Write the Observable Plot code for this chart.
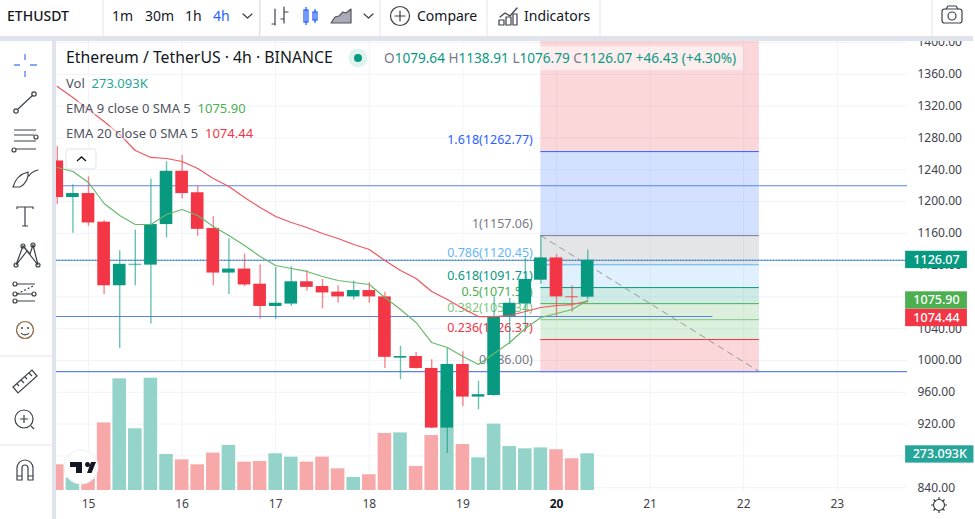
<!DOCTYPE html>
<html>
<head>
<meta charset="utf-8">
<script src="https://cdn.jsdelivr.net/npm/d3@7"></script>
<script src="https://cdn.jsdelivr.net/npm/@observablehq/plot@0.6"></script>
<style>
html,body{margin:0;padding:0;background:#fff;overflow:hidden}
#wrap{position:relative;width:975px;height:519px;font-family:"Noto Sans",sans-serif;color:#131722}
#wrap>svg{position:absolute;left:0;top:0}
#chart svg{display:block}
.t{position:absolute;white-space:nowrap;line-height:1;transform:translateY(-50%)}
.bg{background:rgba(255,255,255,.55)}
</style>
</head>
<body>
<div id="wrap">
<div id="chart"></div>
<svg id="chrome" width="975" height="519" style="pointer-events:none">
  <rect x="0" y="0" width="975" height="36" fill="#fff"/>
  <rect x="0" y="36" width="973" height="5" fill="#e0e3eb"/>
  <rect x="0" y="41" width="52" height="478" fill="#fff"/>
  <rect x="52" y="41" width="4" height="478" fill="#e0e3eb"/>
  <g stroke="#eceef3" stroke-width="1.5">
    <path d="M103 0V36M380 0V36M487 0V36M600 0V36M932 0V36M0 356H52M0 445H52"/>
  </g>
  <rect x="259" y="0" width="1.5" height="36" fill="#e0e3eb"/>
  <g fill="none" stroke="#3c4048" stroke-width="1.2" stroke-linecap="round" stroke-linejoin="round">
    <path d="M243 14l4.5 4 4.5-4"/><path d="M364 14l4.5 4 4.5-4"/>
    <path d="M275 9V25M272 24H275M284 7V23M284 12H288M284 19H281"/>
    <circle cx="400" cy="16" r="9.5"/><path d="M400 11V21M395 16H405"/>
    <path d="M500 17l5-4 5 3 7-8"/><rect x="499" y="20" width="5" height="5"/><rect x="506" y="17" width="5" height="8"/><rect x="513" y="14" width="4" height="11"/>
    <rect x="942" y="9" width="20" height="14" rx="2.5"/><circle cx="952" cy="16" r="4"/><path d="M946 9l2-3h8l2 3"/>
    <path d="M331 23h20V9l-5 4-3-1-4 4-4 1-4 6z" fill="#aab" stroke="#555"/>
  </g>
  <g fill="none" stroke="#2962ff" stroke-width="1.3">
    <rect x="304" y="10" width="4" height="12"/><path d="M306 7V25"/>
    <rect x="313" y="12" width="4" height="8"/><path d="M315 9V23"/>
  </g>
  <!-- drawing tools -->
  <path d="M25 54V60M25 71V77M14 65H20M30 65H37" stroke="#5b8cf5" stroke-width="1.4" fill="none"/>
  <g fill="none" stroke="#3c4048" stroke-width="1.2">
    <path d="M18 109L33 95"/><circle cx="16" cy="111" r="2.2"/><circle cx="34" cy="94" r="2.2"/>
    <path d="M14 130H36M14 135H34M14 141H36M16 149H36"/><circle cx="36" cy="137" r="2"/><circle cx="14" cy="150" r="2"/>
    <path d="M13 187c2-7 7-13 15-15c1 5-2 12-8 15zM29 176c2-4 5-5 9-6" stroke-linecap="round"/>
    <path d="M17 209V207H33V209M25 207V226M22 226H28"/>
    <path d="M16 265L23 246L30 254L33 245L38 265M16 265L27 251M23 246L38 265" />
    <circle cx="16" cy="265" r="2"/><circle cx="23" cy="246" r="2"/><circle cx="38" cy="265" r="2"/><circle cx="33" cy="245" r="2"/>
    <path d="M17 284H35M17 294H32M17 301H35" /><path d="M17 294L33 286" stroke-dasharray="2 2"/>
    <circle cx="15" cy="284" r="2"/><circle cx="15" cy="294" r="2"/><circle cx="15" cy="301" r="2"/><circle cx="34" cy="294" r="2"/>
    <circle cx="25" cy="330" r="8.5"/><path d="M21 333c2 2.5 6 2.5 8 0" />
    <path d="M13 387L32 370L37 376L18 393Z"/><path d="M17 384l2 2M21 380l3 3M25 377l2 2M29 373l3 3"/>
    <circle cx="24" cy="419" r="9"/><path d="M24 415V423M20 419H28M31 426L34 429"/>
    <path d="M17 480V468a8 8 0 0 1 16 0V480H28V468a3 3 0 0 0-6 0V480ZM17 476H22M28 476H33"/>
  </g>
  <circle cx="25" cy="330" r="8.5" fill="none" stroke="#f59e32" stroke-width=".6"/>
  <circle cx="22" cy="328" r="1" fill="#3c4048"/><circle cx="28" cy="328" r="1" fill="#3c4048"/>
  <!-- legend -->
  <circle cx="358" cy="58" r="9.5" fill="#e1f3ef"/><circle cx="358" cy="58" r="4" fill="#089981"/>
  <rect x="66" y="149" width="30" height="20" rx="3" fill="#fff" stroke="#e0e3eb"/>
  <path d="M77 161l4.500-4 4.500 4" fill="none" stroke="#131722" stroke-width="1.4"/>
  <!-- attribution badge -->
  <circle cx="81" cy="467" r="17" fill="#fff" stroke="#eceef3"/>
  <path d="M70 462H82V473H76V467H70ZM85 464.500a2.500 2.500 0 1 1 0 .01ZM87 473L91 462H96L91.500 473Z" fill="#131722"/>
  <!-- settings -->
  <g fill="none" stroke="#3c4048" stroke-width="1.2">
    <circle cx="939" cy="505" r="5.500"/>
    <path d="M939 497V500M939 510V513M931 505H934M944 505H947M933.500 499.500l2 2M942.500 508.500l2 2M933.500 510.500l2-2M942.500 501.500l2-2"/>
  </g>
</svg>
<div class="t" style="left:7px;top:16px;font-size:14px;font-weight:500">ETHUSDT</div>
<div class="t" style="left:112px;top:16px;font-size:14px">1m</div>
<div class="t" style="left:145px;top:16px;font-size:14px">30m</div>
<div class="t" style="left:185px;top:16px;font-size:14px">1h</div>
<div class="t" style="left:213px;top:16px;font-size:14px;color:#2962ff">4h</div>
<div class="t" style="left:417px;top:16px;font-size:14px">Compare</div>
<div class="t" style="left:524px;top:16px;font-size:14px">Indicators</div>
<div class="t" style="left:66px;top:58px;font-size:15.800px">Ethereum / TetherUS · 4h · BINANCE</div>
<div class="t bg" style="left:380px;top:58px;padding:5px 7px 5px 4px;font-size:13.600px;color:#089981"><span style="color:#787b86">O</span>1079.64 <span style="color:#787b86">H</span>1138.91 <span style="color:#787b86">L</span>1076.79 <span style="color:#787b86">C</span>1126.07 +46.43 (+4.30%)</div>
<div class="t bg" style="left:66px;top:83px;font-size:13px;color:#50535e">Vol &nbsp;<span style="color:#26a69a">273.093K</span></div>
<div class="t bg" style="left:66px;top:108px;font-size:13px;color:#50535e">EMA 9 close 0 SMA 5 &nbsp;<span style="color:#4caf50">1075.90</span></div>
<div class="t bg" style="left:66px;top:133px;font-size:13px;color:#50535e">EMA 20 close 0 SMA 5 &nbsp;<span style="color:#f23645">1074.44</span></div>
</div>
<script>
const opens  = [1251,1205,1210,1174,1094,1120,1120,1171,1238,1211,1166,1110,1115,1096,1068,1071,1099,1093,1086,1080,1088,1080,1003,1005,990,915,995,954,956,1055,1071,1101,1129,1080,1079.64];
const highs  = [1269,1221,1231,1176,1138,1164,1228,1250,1258,1219,1181,1153,1134,1120,1117,1118,1113,1102,1094,1100,1098,1086,1018,1010,1001,1016,1011,974,1080,1078,1129,1157.06,1133,1094,1138.91];
const lows   = [1196,1160,1169,1083,1015,1094,1046,1154,1203,1156,1094,1083,1093,1052,1052,1068,1087,1065,1072,1076,1072,990,976,989,914,883,942,938,955,1020,1040,1096,1054,1061,1076.79];
const closes = [1205,1210,1173,1094,1121,1121,1171,1238,1210,1165,1110,1115,1095,1068,1072,1099,1092,1085,1080,1088,1080,1004,1005,990,915,995,954,957,1055,1072,1102,1129,1080,1079,1126.07];
const volumes = [191,92,87,503,831,459,836,268,228,191,278,335,211,216,273,248,211,248,161,97,117,424,429,179,409,744,342,243,494,327,310,317,303,236,273.093];
const ema9  = [1242.8,1237.7,1223.9,1197.5,1182.4,1171.1,1171.1,1183.7,1189.9,1182.4,1168.6,1157.2,1144.7,1130.8,1119.5,1115.7,1112,1105.7,1100.6,1098.1,1095.6,1079.2,1064.2,1047.8,1022.6,1016.4,1005,995,1008.8,1022.6,1040.3,1054.1,1059.1,1064.2,1075.9];
const ema20 = [1344.7,1330.8,1315.7,1300.6,1284.3,1264.2,1255.4,1254.1,1250.3,1241.5,1228.9,1218.9,1205,1192.5,1181.1,1173.6,1167.3,1159.8,1153.5,1145.9,1139.6,1125.8,1113.2,1103.1,1086.8,1076.7,1065.4,1055.3,1055.3,1056.6,1061.6,1066.7,1069.2,1070.4,1074.44];

const fibRatios = ["1.618","1","0.786","0.618","0.5","0.382","0.236","0"];
const fibPrices = [1262.77,1157.06,1120.45,1091.71,1071.53,1051.34,1026.37,986];
const fibColors = ["#2962ff","#787b86","#64b5f6","#089981","#4caf50","#81c784","#f23645","#787b86"];
const fibFills  = ["#f23645","#2962ff","#787b86","#64b5f6","#089981","#4caf50","#4caf50","#f23645"];
const fibStartDay = 19.833, fibEndDay = 22.168;

const supportPrices = [1219.8, 986];
const shortSupportPrice = 1055.3, shortSupportEndDay = 21.67;
const lastPrice = 1126.07;

const dayTicks = [15,16,17,18,19,21,22,23];
const boldDayTicks = [20];
const priceTicks = d3.range(840,1401,40);

const tagLabels = ["1126.07","1075.90","1074.44","273.093K"];
const tagPrices = [1126.5,1075.5,1053.5,881.8];
const tagFills  = ["#089981","#4caf50","#f23645","#26a69a"];
const tagEnds   = [24.39,24.39,24.39,24.46];

const GREEN="#089981", RED="#f23645", VOL_GREEN="#94d3c9", VOL_RED="#f7a8a8", GRID="#f0f3fa", BLUE="#5b82f0";
const VOLUME_BASE = 836.5, PRICE_PER_K = 0.169, HALF_BAR = 0.0675, HALF_VOL = 0.0725, TOP = 1401.26;

const bars = opens.map((o,i)=>({
  day: 14 + 4/6 + i/6, open:o, high:highs[i], low:lows[i], close:closes[i],
  vol:volumes[i], e9:ema9[i], e20:ema20[i], up:closes[i]>=o
}));
const bodyTop = d=>Math.max(d.open,d.close), bodyBot = d=>Math.min(d.open,d.close);
const fibLevels = fibPrices.map((p,i)=>({price:p,color:fibColors[i],label:`${fibRatios[i]}(${p.toFixed(2)})`}));
const fibBands = fibPrices.map((p,i)=>({lo:p, hi:i===0?TOP:fibPrices[i-1], fill:fibFills[i]}));
const tags = tagLabels.map((l,i)=>({label:l,price:tagPrices[i],fill:tagFills[i],end:tagEnds[i]}));

const plot = Plot.plot({
  width:975, height:519, marginLeft:56, marginRight:68, marginTop:41, marginBottom:27,
  style:{fontFamily:'"Noto Sans",sans-serif', background:"#fff"},
  x:{type:"linear", domain:[14.658,23.75]},
  y:{type:"linear", domain:[833.96,TOP]},
  marks:[
    Plot.gridX([...dayTicks,...boldDayTicks],{x:d=>d,stroke:GRID,strokeOpacity:1}),
    Plot.gridY(priceTicks,{y:d=>d,stroke:GRID,strokeOpacity:1}),
    Plot.axisY({anchor:"right",ticks:priceTicks,tickSize:0,tickPadding:10,tickFormat:d3.format(".2f"),label:null,fontSize:12,fill:"#3f434d"}),
    Plot.axisX({anchor:"bottom",ticks:dayTicks,tickSize:0,tickPadding:7,label:null,fontSize:12,fill:"#3f434d",tickFormat:d=>d}),
    Plot.axisX({anchor:"bottom",ticks:boldDayTicks,tickSize:0,tickPadding:7,label:null,fontSize:12,fontWeight:"bold",fill:"#131722",tickFormat:d=>d}),
    Plot.rect(bars,{x1:d=>d.day-HALF_VOL,x2:d=>d.day+HALF_VOL,y1:VOLUME_BASE,y2:d=>VOLUME_BASE+d.vol*PRICE_PER_K,fill:d=>d.up?VOL_GREEN:VOL_RED,clip:true}),
    Plot.rect(fibBands,{x1:fibStartDay,x2:fibEndDay,y1:"lo",y2:"hi",fill:"fill",fillOpacity:0.2,clip:true}),
    Plot.ruleY(fibLevels,{y:"price",x1:fibStartDay,x2:fibEndDay,stroke:"color",strokeWidth:1}),
    Plot.line([[fibStartDay,fibPrices[1]],[fibEndDay,fibPrices[7]]],{stroke:"#9598a1",strokeWidth:1,strokeDasharray:"6 5"}),
    Plot.text(fibLevels,{x:fibStartDay,y:"price",text:"label",fill:"color",textAnchor:"end",dx:-8,dy:-11.5,fontSize:12.5}),
    Plot.ruleY(supportPrices,{y:d=>d,stroke:BLUE,strokeWidth:1.1}),
    Plot.ruleY([shortSupportPrice],{y:d=>d,x1:14.658,x2:shortSupportEndDay,stroke:BLUE,strokeWidth:1.1}),
    Plot.ruleY([lastPrice],{y:d=>d,stroke:BLUE,strokeWidth:1.1}),
    Plot.ruleY([lastPrice],{y:d=>d,stroke:GREEN,strokeWidth:1,strokeDasharray:"1 2"}),
    Plot.ruleX(bars,{x:"day",y1:"low",y2:"high",stroke:d=>d.up?GREEN:RED,strokeOpacity:0.6,strokeWidth:1.4,clip:true}),
    Plot.rect(bars,{x1:d=>d.day-HALF_BAR,x2:d=>d.day+HALF_BAR,y1:bodyBot,y2:bodyTop,fill:d=>d.up?GREEN:RED,clip:true}),
    Plot.line(bars,{x:"day",y:"e20",stroke:"#f0555f",strokeWidth:1.2,clip:true}),
    Plot.line(bars,{x:"day",y:"e9",stroke:"#66b96a",strokeWidth:1.2,clip:true}),
    Plot.rect(tags,{x1:23.73,x2:"end",y1:d=>d.price-10.9,y2:d=>d.price+10.9,fill:"fill"}),
    Plot.text(tags,{x:d=>(23.73+d.end)/2,y:"price",text:"label",fill:"#fff",fontSize:12.5,fontWeight:500})
  ]
});
document.getElementById("chart").appendChild(plot);
</script>
</body>
</html>
